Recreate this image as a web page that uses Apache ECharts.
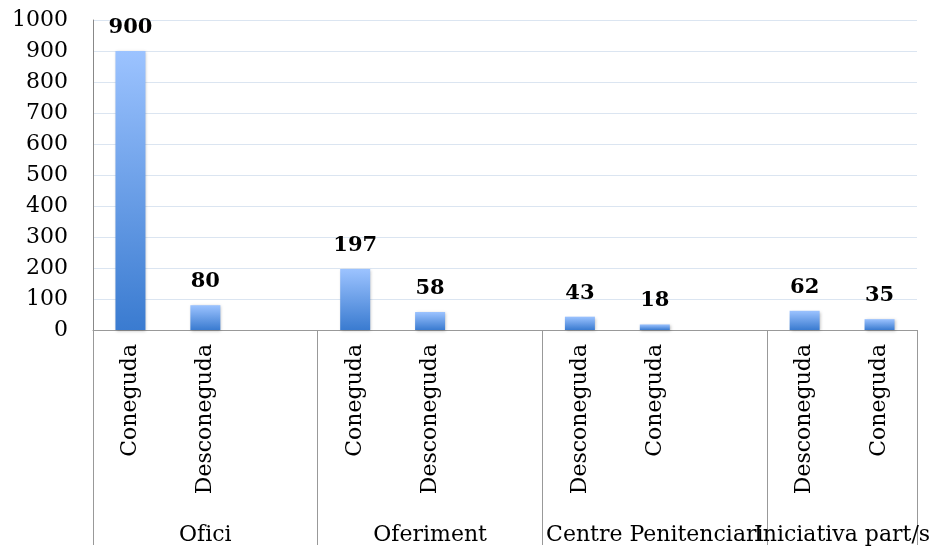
<!DOCTYPE html>
<html lang="ca">
<head>
    <meta charset="UTF-8">
    <title>Coneguda / Desconeguda</title>
    <style>
        html, body { margin: 0; padding: 0; background: #fff; }
    </style>
</head>
<body>

<div id="main" style="width: 935px; height: 546px;"></div>

<script src="https://cdn.jsdelivr.net/npm/echarts@6/dist/echarts.min.js"></script>
<script>
    // dades llegides del gràfic
    var groups = ['Ofici', 'Oferiment', 'Centre Penitenciari', 'Iniciativa part/s'];
    var groupSlots = [3, 3, 3, 2];
    var categories = ['Coneguda', 'Desconeguda', '', 'Coneguda', 'Desconeguda', '',
                      'Desconeguda', 'Coneguda', '', 'Desconeguda', 'Coneguda'];
    var values = [900, 80, null, 197, 58, null, 43, 18, null, 62, 35];
    var yTicks = [0, 100, 200, 300, 400, 500, 600, 700, 800, 900, 1000];

    // límits i centres de cada grup (en posicions de categoria)
    var bounds = [0];
    var centers = [];
    groupSlots.forEach(function (n) {
        var start = bounds[bounds.length - 1];
        centers.push(start + n / 2);
        bounds.push(start + n);
    });
    var totalSlots = bounds[bounds.length - 1];
    // etiquetes buides als extrems perquè no s'amagui cap nom de grup
    var labelValues = [0].concat(centers, [totalSlots]);

    var font = 'DejaVu Serif';
    var myChart = echarts.init(document.getElementById('main'));

    var option = {
        animation: false,
        grid: { left: 93, right: 18, top: 20, bottom: 215, containLabel: false },
        xAxis: [
            {
                type: 'category',
                data: categories,
                axisLine: { show: true, lineStyle: { color: '#999', width: 1 } },
                axisTick: { show: false },
                axisLabel: {
                    interval: 0,
                    rotate: 90,
                    margin: 14,
                    fontFamily: font,
                    fontSize: 22,
                    color: '#000'
                }
            },
            {
                // noms dels grups
                type: 'value',
                min: 0,
                max: totalSlots,
                position: 'bottom',
                axisLine: { show: false },
                splitLine: { show: false },
                axisTick: { show: false },
                axisLabel: {
                    customValues: labelValues,
                    hideOverlap: false,
                    showMinLabel: false,
                    showMaxLabel: false,
                    margin: 194,
                    fontFamily: font,
                    fontSize: 22,
                    color: '#000',
                    formatter: function (v) {
                        var i = centers.indexOf(v);
                        return i >= 0 ? groups[i] : '';
                    }
                }
            },
            {
                // separadors verticals entre grups
                type: 'value',
                min: 0,
                max: totalSlots,
                position: 'bottom',
                axisLine: { show: false },
                splitLine: { show: false },
                axisLabel: { show: false },
                axisTick: {
                    show: true,
                    customValues: bounds,
                    length: 215,
                    lineStyle: { color: '#999', width: 1 }
                }
            }
        ],
        yAxis: {
            type: 'value',
            min: yTicks[0],
            max: yTicks[yTicks.length - 1],
            interval: yTicks[1] - yTicks[0],
            axisLine: { show: true, lineStyle: { color: '#888', width: 1 } },
            axisTick: { show: false },
            splitLine: { show: true, lineStyle: { color: '#dbe5f1', width: 1 } },
            axisLabel: {
                margin: 25,
                fontFamily: font,
                fontSize: 22,
                color: '#000',
                formatter: function (v) { return String(v); }
            }
        },
        series: [
            {
                type: 'bar',
                xAxisIndex: 0,
                data: values,
                barWidth: 30,
                itemStyle: {
                    color: new echarts.graphic.LinearGradient(0, 0, 0, 1, [
                        { offset: 0, color: '#9cc3ff' },
                        { offset: 1, color: '#3a7bd0' }
                    ]),
                    shadowBlur: 3,
                    shadowColor: 'rgba(0, 0, 0, 0.25)',
                    shadowOffsetX: 1,
                    shadowOffsetY: 1
                },
                label: {
                    show: true,
                    position: 'top',
                    distance: 13,
                    fontFamily: font,
                    fontWeight: 'bold',
                    fontSize: 21,
                    color: '#000'
                }
            }
        ]
    };
    myChart.setOption(option);
</script>
</body>
</html>
